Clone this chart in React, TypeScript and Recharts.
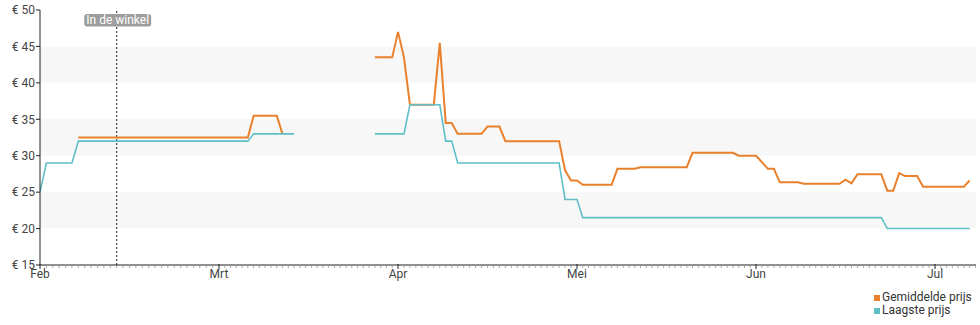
import React from 'react';
import { LineChart, Line, XAxis, YAxis, ReferenceArea, ReferenceLine } from 'recharts';

// Month axis (each month gets equal width)
const maanden = ['02', '03', '04', '05', '06', '07'];
const maandLabels = ['Feb', 'Mrt', 'Apr', 'Mei', 'Jun', 'Jul'];
const maandDagen = [28, 31, 30, 31, 30, 31];

// Gemiddelde prijs (average price)
const gemDatums = [
  '02-07', '03-06', '03-07', '03-11', '03-12', '03-21',
  '03-28', '03-31', '04-01', '04-02', '04-03', '04-07', '04-08', '04-09', '04-10', '04-11',
  '04-15', '04-16', '04-18', '04-19', '04-28', '04-29', '04-30', '05-01', '05-02', '05-07',
  '05-08', '05-11', '05-12', '05-20', '05-21', '05-28', '05-29', '06-01', '06-03', '06-04',
  '06-05', '06-08', '06-09', '06-15', '06-16', '06-17', '06-18', '06-22', '06-23', '06-24',
  '06-25', '06-26', '06-28', '06-29', '07-06', '07-07',
];
const gemPrijs: (number | null)[] = [
  32.5, 32.5, 35.5, 35.5, 33, null,
  43.5, 43.5, 47, 43.5, 37, 37, 45.5, 34.5, 34.5, 33,
  33, 34, 34, 32, 32, 28, 26.6, 26.6, 26, 26,
  28.2, 28.2, 28.4, 28.4, 30.4, 30.4, 30, 30, 28.2, 28.2,
  26.35, 26.35, 26.15, 26.15, 26.7, 26.2, 27.45, 27.45, 25.2, 25.2,
  27.6, 27.2, 27.2, 25.75, 25.75, 26.6,
];

// Laagste prijs (lowest price)
const laagDatums = [
  '02-01', '02-02', '02-06', '02-07', '03-06', '03-07', '03-14', '03-21', '03-28', '04-02',
  '04-03', '04-08', '04-09', '04-10', '04-11', '04-28', '04-29', '05-01', '05-02', '06-22',
  '06-23', '07-07',
];
const laagPrijs: (number | null)[] = [
  25, 29, 29, 32, 32, 33, 33, null, 33, 33,
  37, 37, 32, 32, 29, 29, 24, 24, 21.5, 21.5,
  20, 20,
];

const yTicks = [15, 20, 25, 30, 35, 40, 45, 50];
const banden = [[20, 25], [30, 35], [40, 45]];
const winkelDatum = '02-13';
const winkelLabel = 'In de winkel';

const ORANJE = '#e9802c';
const TEAL = '#5fbfc6';
const FONT = 'Roboto, "Noto Sans", sans-serif';

function toX(d: string): number {
  const [m, day] = d.split('-');
  const i = maanden.indexOf(m);
  return i + (Number(day) - 1) / maandDagen[i];
}

const xMax = 5.229;
const gemData = gemDatums.map((d, i) => ({ x: toX(d), y: gemPrijs[i] }));
const laagData = laagDatums.map((d, i) => ({ x: toX(d), y: laagPrijs[i] }));

const dagTicks: number[] = [];
maanden.forEach((_, i) => {
  for (let d = 0; d < maandDagen[i]; d++) {
    const v = i + d / maandDagen[i];
    if (v <= xMax) dagTicks.push(v);
  }
});

const DagTick = (props: any) => {
  const { x, y, payload } = props;
  const v = payload.value as number;
  const major = Math.abs(v - Math.round(v)) < 1e-9;
  if (major) {
    return (
      <g>
        <line x1={x} x2={x} y1={y - 1} y2={y + 4} stroke="#222" strokeWidth={1} />
        <text x={x} y={y + 13} textAnchor="middle" fill="#444" fontSize={12} fontFamily={FONT}>
          {maandLabels[Math.round(v)]}
        </text>
      </g>
    );
  }
  return <line x1={x} x2={x} y1={y + 1} y2={y + 3} stroke="#aaa" strokeWidth={1} />;
};

const WinkelLabel = (props: any) => {
  const { viewBox } = props;
  const cx = viewBox.x + 1;
  const w = 67;
  return (
    <g>
      <rect x={cx - w / 2} y={14} width={w} height={12.5} rx={3} ry={3} fill="#9d9d9d" />
      <text x={cx} y={24} textAnchor="middle" fill="#fff" fontSize={12} fontFamily={FONT}>
        {winkelLabel}
      </text>
    </g>
  );
};

export default function App() {
  return (
    <div style={{ position: 'absolute', left: 0, top: 0, width: 980, height: 325, fontFamily: FONT }}>
      <LineChart width={980} height={325} margin={{ top: 10, right: 4, bottom: 40, left: 0 }}>
        {banden.map(([a, b]) => (
          <ReferenceArea key={a} y1={a} y2={b} fill="#f7f7f7" fillOpacity={1} stroke="none" ifOverflow="hidden" />
        ))}
        <XAxis
          type="number"
          dataKey="x"
          domain={[0, xMax]}
          ticks={dagTicks}
          interval={0}
          allowDataOverflow
          tickLine={false}
          tickSize={0}
          tickMargin={0}
          tick={<DagTick />}
          axisLine={{ stroke: '#222', strokeWidth: 1 }}
          height={20}
        />
        <YAxis
          type="number"
          domain={[15, 50]}
          ticks={yTicks}
          interval={0}
          width={40}
          tickSize={4}
          tickMargin={1}
          tickFormatter={(v: number) => `€ ${v}`}
          tick={{ fill: '#444', fontSize: 12, fontFamily: FONT }}
          tickLine={{ stroke: '#222' }}
          axisLine={{ stroke: '#222', strokeWidth: 1 }}
        />
        <ReferenceLine
          x={toX(winkelDatum)}
          stroke="#222"
          strokeWidth={1}
          strokeDasharray="2 2"
          label={<WinkelLabel />}
        />
        <Line
          data={gemData}
          dataKey="y"
          type="linear"
          stroke={ORANJE}
          strokeWidth={2}
          dot={false}
          activeDot={false}
          connectNulls={false}
          isAnimationActive={false}
        />
        <Line
          data={laagData}
          dataKey="y"
          type="linear"
          stroke={TEAL}
          strokeWidth={1.6}
          dot={false}
          activeDot={false}
          connectNulls={false}
          isAnimationActive={false}
        />
      </LineChart>
      <div
        style={{
          position: 'absolute',
          left: 874,
          top: 291,
          fontSize: 12,
          lineHeight: '13px',
          color: '#333',
          fontFamily: FONT,
        }}
      >
        {[
          { naam: 'Gemiddelde prijs', kleur: ORANJE },
          { naam: 'Laagste prijs', kleur: TEAL },
        ].map((s) => (
          <div key={s.naam} style={{ display: 'flex', alignItems: 'center', height: 13 }}>
            <span style={{ display: 'inline-block', width: 6, height: 6, background: s.kleur, marginRight: 2 }} />
            <span>{s.naam}</span>
          </div>
        ))}
      </div>
    </div>
  );
}
